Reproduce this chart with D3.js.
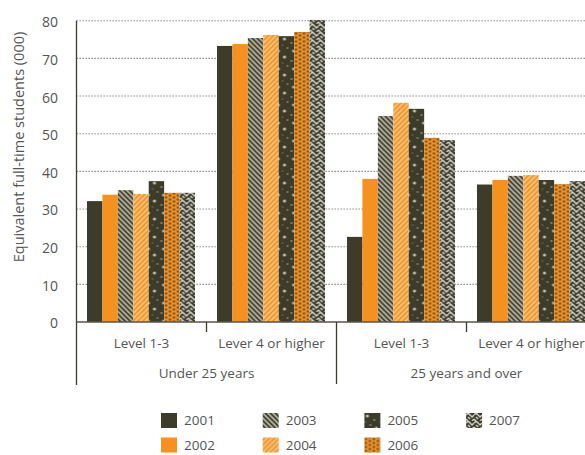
<!DOCTYPE html>
<html>
<head>
<meta charset="utf-8">
<script src="https://cdn.jsdelivr.net/npm/d3@7"></script>
<style>
  html, body { margin: 0; padding: 0; background: #fff; }
  svg { display: block; }
  text { font-family: "Open Sans", "Noto Sans", sans-serif; fill: #555; }
</style>
</head>
<body>
<svg id="chart" width="585" height="455"></svg>
<script>
// Equivalent full-time students (000), by age group and qualification level, 2001-2007
const years = ["2001", "2002", "2003", "2004", "2005", "2006", "2007"];
const ageGroups = ["Under 25 years", "25 years and over"];
const levels = ["Level 1-3", "Lever 4 or higher"];
const under25Level13 = [32.1, 33.8, 35.0, 34.0, 37.4, 34.3, 34.3];
const under25Level4 = [73.3, 73.8, 75.4, 76.2, 75.9, 77.0, 80.2];
const over25Level13 = [22.6, 38.0, 54.7, 58.2, 56.6, 48.9, 48.3];
const over25Level4 = [36.5, 37.7, 38.8, 39.0, 37.7, 36.6, 37.4];
const yTicks = [0, 10, 20, 30, 40, 50, 60, 70, 80];

const clusters = [
  { age: ageGroups[0], level: levels[0], values: under25Level13 },
  { age: ageGroups[0], level: levels[1], values: under25Level4 },
  { age: ageGroups[1], level: levels[0], values: over25Level13 },
  { age: ageGroups[1], level: levels[1], values: over25Level4 }
];

const DARK = "#3d3b29";
const ORANGE = "#f5921f";

const svg = d3.select("#chart");
const defs = svg.append("defs");

// ---- fill patterns for each year ----
function pattern(id, w, h, bg, draw) {
  const p = defs.append("pattern").attr("id", id)
    .attr("patternUnits", "userSpaceOnUse").attr("width", w).attr("height", h);
  p.append("rect").attr("width", w).attr("height", h).attr("fill", bg);
  draw(p);
}
// 2003: light diagonal stripes on dark
pattern("p2003", 5, 5, DARK, p => {
  p.append("path").attr("d", "M-1,-1 L6,6 M-1,4 L1,6 M4,-1 L6,1")
    .attr("stroke", "#b9b7a8").attr("stroke-width", 1.7);
});
// 2004: pale diagonal stripes on orange
pattern("p2004", 5, 5, ORANGE, p => {
  p.append("path").attr("d", "M-1,6 L6,-1 M-1,1 L1,-1 M4,6 L6,4")
    .attr("stroke", "#fbc686").attr("stroke-width", 1.6);
});
// 2005: sparse light speckles on dark
pattern("p2005", 15, 18, DARK, p => {
  [[3, 3, 1.6, 0.85], [10, 7, 1.1, 0.5], [6, 12, 1.0, 0.45], [12, 15, 1.5, 0.75], [1, 9, 0.8, 0.35]]
    .forEach(([cx, cy, r, o]) => p.append("circle").attr("cx", cx).attr("cy", cy).attr("r", r)
      .attr("fill", "#d8d8d0").attr("opacity", o));
});
// 2006: dark dots in a zigzag on orange
pattern("p2006", 8, 8, ORANGE, p => {
  [[1.5, 1.5], [5.5, 3.5], [1.5, 5.5], [5.5, 7.5], [5.5, -0.5]]
    .forEach(([cx, cy]) => p.append("circle").attr("cx", cx).attr("cy", cy).attr("r", 1.3)
      .attr("fill", "#5d4b2a").attr("opacity", 0.85));
});
// 2007: light zigzag chain on dark
pattern("p2007", 8, 8, DARK, p => {
  p.append("path").attr("d", "M0,2 L2,0 L4,2 L6,4 L8,2 M0,6 L2,8 M6,8 L8,6 M2,4 L4,6")
    .attr("stroke", "#d2d2ca").attr("stroke-width", 1.5).attr("fill", "none");
});
const fills = [DARK, ORANGE, "url(#p2003)", "url(#p2004)", "url(#p2005)", "url(#p2006)", "url(#p2007)"];

// ---- scales ----
const y = d3.scaleLinear().domain([0, 80]).range([322, 20.7]);
const x0 = d3.scaleBand().domain(d3.range(clusters.length)).range([76.5, 76.5 + 130 * clusters.length]);
const x1 = d3.scaleBand().domain(years).range([10.5, 118.5]);
const axisX = 76.5;

// dotted gridlines
svg.append("g").selectAll("line")
  .data(yTicks.filter(d => d > 0)).join("line")
  .attr("x1", axisX).attr("x2", 585)
  .attr("y1", d => y(d)).attr("y2", d => y(d))
  .attr("stroke", "#7d7c72").attr("stroke-width", 1.1)
  .attr("stroke-dasharray", "1.3,1.7");

// bars
const groups = svg.append("g").selectAll("g")
  .data(clusters).join("g")
  .attr("transform", (d, i) => `translate(${x0(i)},0)`);
groups.selectAll("rect")
  .data(d => d.values.map((v, j) => ({ v, year: years[j], j })))
  .join("rect")
  .attr("x", d => x1(d.year))
  .attr("width", x1.bandwidth())
  .attr("y", d => y(d.v))
  .attr("height", d => y(0) - y(d.v))
  .attr("fill", d => fills[d.j]);

// y axis labels
const yAxis = d3.axisLeft(y).tickValues(yTicks).tickSize(0).tickPadding(0);
const gy = svg.append("g").attr("transform", "translate(58,1.5)").call(yAxis);
gy.select(".domain").remove();
gy.selectAll("text").attr("fill", "#555").style("font-size", "14px")
  .style("font-family", "'Open Sans', sans-serif");

// axis lines
svg.append("line").attr("x1", axisX).attr("x2", axisX).attr("y1", 20.7).attr("y2", 385)
  .attr("stroke", DARK).attr("stroke-width", 1.3);
svg.append("line").attr("x1", axisX).attr("x2", 585).attr("y1", y(0)).attr("y2", y(0))
  .attr("stroke", "#57554a").attr("stroke-width", 1.6);

// cluster separators: short ticks within an age group, long line between age groups
d3.range(1, clusters.length).forEach(i => {
  const xx = x0(i);
  const long = clusters[i].age !== clusters[i - 1].age;
  svg.append("line").attr("x1", xx).attr("x2", xx)
    .attr("y1", y(0)).attr("y2", long ? 384 : 332)
    .attr("stroke", DARK).attr("stroke-width", 1.3);
});

// category labels
svg.append("g").selectAll("text").data(clusters).join("text")
  .attr("x", (d, i) => x0(i) + x0.bandwidth() / 2)
  .attr("y", 348)
  .attr("text-anchor", "middle").style("font-size", "13.5px")
  .text(d => d.level);
svg.append("g").selectAll("text").data(ageGroups).join("text")
  .attr("x", (d, i) => x0(i * 2) + x0.bandwidth())
  .attr("y", 378)
  .attr("text-anchor", "middle").style("font-size", "13.5px")
  .text(d => d);

// y axis title
svg.append("text")
  .attr("transform", "translate(24,147) rotate(-90)")
  .attr("text-anchor", "middle").style("font-size", "14.5px")
  .text("Equivalent full-time students (000)");

// legend: 4 columns, 2 rows, filled column-wise
const legend = svg.append("g").selectAll("g").data(years).join("g")
  .attr("transform", (d, i) => `translate(${161 + Math.floor(i / 2) * 101.7},${413 + (i % 2) * 24.5})`);
legend.append("rect").attr("width", 16).attr("height", 15).attr("fill", (d, i) => fills[i]);
legend.append("text").attr("x", 23).attr("y", 12).style("font-size", "13.5px").text(d => d);
</script>
</body>
</html>
